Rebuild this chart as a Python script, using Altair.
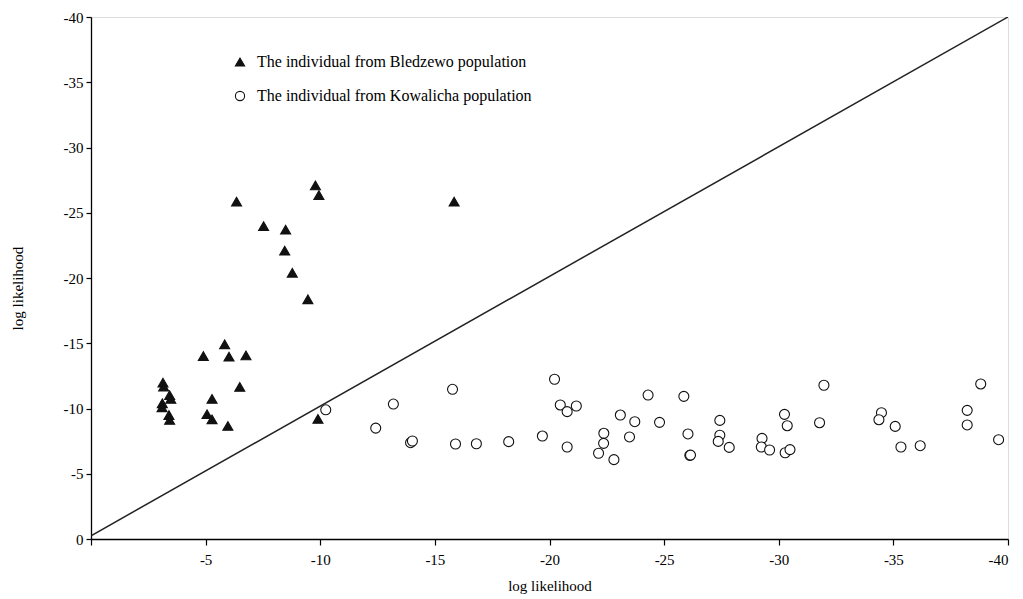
import altair as alt
import pandas as pd

# Bledzewo individuals (triangles): x = log likelihood (Bledzewo), y = log likelihood (Kowalicha)
bled_x = [-6.35, -7.53, -8.49, -8.45, -8.78, -9.79, -9.94, -9.46, -15.84,
          -5.83, -4.90, -6.02, -6.76, -6.49, -3.14, -3.17, -3.43, -3.48,
          -3.11, -3.10, -5.28, -3.40, -3.43, -5.06, -5.28, -5.97, -9.90]
bled_y = [-25.85, -23.98, -23.70, -22.10, -20.40, -27.10, -26.36, -18.37, -25.85,
          -14.92, -14.02, -13.97, -14.07, -11.65, -11.98, -11.67, -11.03, -10.73,
          -10.40, -10.09, -10.73, -9.50, -9.12, -9.56, -9.17, -8.66, -9.20]

# Kowalicha individuals (circles)
kow_x = [-10.24, -12.42, -13.19, -13.94, -14.02, -15.77, -15.90, -16.81, -18.22,
         -19.69, -20.22, -20.47, -20.77, -21.17, -20.77, -22.37, -22.36, -22.14,
         -22.81, -23.09, -23.72, -23.49, -24.30, -24.80, -25.86, -26.04, -26.12,
         -26.15, -27.43, -27.43, -27.36, -27.84, -29.27, -29.24, -29.60, -30.25,
         -30.37, -30.28, -30.49, -31.97, -31.78, -34.48, -34.37, -35.08, -35.33,
         -36.17, -38.22, -38.22, -38.81, -39.59]
kow_y = [-9.90, -8.50, -10.34, -7.38, -7.51, -11.47, -7.28, -7.30, -7.46,
         -7.89, -12.24, -10.27, -9.76, -10.19, -7.05, -8.10, -7.33, -6.57,
         -6.08, -9.50, -8.99, -7.82, -11.03, -8.94, -10.93, -8.05, -6.41,
         -6.43, -9.09, -7.95, -7.48, -7.02, -7.71, -7.05, -6.82, -9.55,
         -8.68, -6.61, -6.85, -11.78, -8.91, -9.68, -9.14, -8.63, -7.05,
         -7.15, -9.86, -8.74, -11.88, -7.61]

groups = ["The individual from Bledzewo population",
          "The individual from Kowalicha population"]

line_x = [0, -40]
line_y = [-0.25, -40]

x_ticks = [0, -5, -10, -15, -20, -25, -30, -35, -40]
y_ticks = [0, -5, -10, -15, -20, -25, -30, -35, -40]

pts = pd.DataFrame({
    "x": bled_x + kow_x,
    "y": bled_y + kow_y,
    "g": [groups[0]] * len(bled_x) + [groups[1]] * len(kow_x),
})
ln = pd.DataFrame({"x": line_x, "y": line_y})

FONT = "Liberation Serif"

xs = alt.Scale(domain=[-40, 0], reverse=True, nice=False, zero=False)
ys = alt.Scale(domain=[-40, 0], reverse=True, nice=False, zero=False)

xax = alt.Axis(values=x_ticks, labelExpr="datum.value == 0 ? '' : '' + datum.value",
               title="log likelihood", grid=False, domainColor="black",
               tickColor="black", tickSize=6, labelPadding=7, labelFontSize=15,
               labelFont=FONT, titleFont=FONT, titleFontSize=15,
               titleFontWeight="normal", titlePadding=11, labelColor="black",
               titleColor="black", domainWidth=1.3, tickWidth=1.2)
yax = alt.Axis(values=y_ticks, labelExpr="'' + datum.value",
               title="log likelihood", grid=False,
               domainColor="black", tickColor="black", tickSize=5,
               labelPadding=3, labelFontSize=15, labelFont=FONT,
               titleFont=FONT, titleFontSize=15, titleFontWeight="normal",
               titleX=-74, titleY=271, titleBaseline="middle",
               labelColor="black", titleColor="black",
               domainWidth=1.3, tickWidth=1.2)

line = alt.Chart(ln).mark_line(color="#222222", strokeWidth=1.5, clip=True).encode(
    x=alt.X("x:Q", scale=xs, axis=xax),
    y=alt.Y("y:Q", scale=ys, axis=yax),
)

legend = alt.Legend(orient="none", legendX=141, legendY=37,
                    labelFont=FONT, labelFontSize=16, labelColor="black",
                    rowPadding=18, labelOffset=9, symbolSize=85,
                    symbolStrokeWidth=1.1, labelLimit=400)

points = alt.Chart(pts).mark_point(filled=False, strokeWidth=1.1, opacity=1,
                                   size=100).encode(
    x=alt.X("x:Q", scale=xs),
    y=alt.Y("y:Q", scale=ys),
    shape=alt.Shape("g:N", title=None,
                    scale=alt.Scale(domain=groups, range=["triangle-up", "circle"]),
                    legend=legend),
    fill=alt.Fill("g:N", title=None,
                  scale=alt.Scale(domain=groups, range=["#111111", "white"]),
                  legend=legend),
    stroke=alt.Stroke("g:N", title=None,
                      scale=alt.Scale(domain=groups, range=["#111111", "#111111"]),
                      legend=legend),
)

chart = alt.layer(line, points).properties(
    width=917, height=522,
    autosize=alt.AutoSizeParams(type="none"),
    padding={"left": 83, "top": 9, "right": 7, "bottom": 60},
).configure_view(stroke="#888888", strokeWidth=1.5).configure(background="white")

chart.save("out.html", embed_options={"renderer": "svg", "actions": False})
